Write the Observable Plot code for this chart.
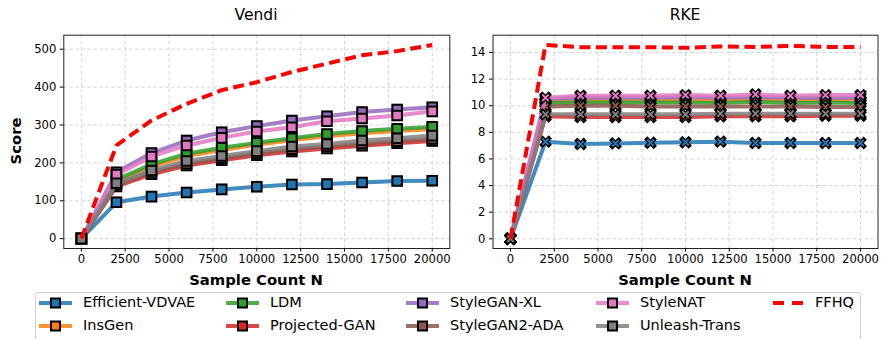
<!DOCTYPE html>
<html><head><meta charset="utf-8">
<script src="https://cdn.jsdelivr.net/npm/d3@7"></script>
<script src="https://cdn.jsdelivr.net/npm/@observablehq/plot@0.6"></script>
<style>
body{margin:0;background:#fff;font-family:"DejaVu Sans",sans-serif;color:#000}
#root{position:relative;width:882px;height:339px;overflow:hidden;background:#fff}
.abs{position:absolute;white-space:nowrap}
.title{font-size:15.5px;line-height:15.5px;transform:translateX(-50%)}
.xlab{font-size:14.8px;line-height:14.8px;font-weight:bold;transform:translateX(-50%)}
.ylab{font-size:14.8px;line-height:14.8px;font-weight:bold;transform:translate(-50%,-50%) rotate(-90deg)}
#legend{left:35px;top:292px;width:826px;height:60px;border:1px solid #d0d0d0;border-radius:3px;box-sizing:border-box}
.ltext{font-size:14.5px;line-height:14.5px}
</style></head>
<body><div id="root"></div>
<script>
// ---------- data ----------
const sampleCounts = [0, 2000, 4000, 6000, 8000, 10000, 12000, 14000, 16000, 18000, 20000];
const methods = ["Efficient-VDVAE", "InsGen", "LDM", "Projected-GAN", "StyleGAN-XL", "StyleGAN2-ADA", "StyleNAT", "Unleash-Trans", "FFHQ"];
const methodColors = ["#1f77b4", "#ff7f0e", "#2ca02c", "#d62728", "#9467bd", "#8c564b", "#e377c2", "#7f7f7f", "#ff0000"];

const vendiEfficientVDVAE = [0, 96, 111, 122, 130, 137, 143, 144, 148, 152, 153];
const vendiInsGen         = [0, 150, 190, 218, 234, 248, 260, 270, 278, 284, 289];
const vendiLDM            = [0, 156, 196, 224, 240, 253, 265, 276, 284, 290, 295];
const vendiProjectedGAN   = [0, 138, 170, 193, 207, 220, 230, 238, 245, 252, 258];
const vendiStyleGANXL     = [0, 175, 226, 259, 281, 297, 312, 323, 334, 341, 347];
const vendiStyleGAN2ADA   = [0, 142, 176, 198, 212, 225, 236, 243, 251, 257, 263];
const vendiStyleNAT       = [0, 169, 217, 246, 266, 283, 294, 310, 317, 325, 336];
const vendiUnleashTrans   = [0, 146, 180, 205, 218, 231, 243, 250, 259, 265, 272];
const vendiFFHQ           = [0, 246, 312, 356, 392, 413, 440, 462, 484, 495, 511];

const rkeEfficientVDVAE = [0, 7.30, 7.12, 7.17, 7.22, 7.25, 7.30, 7.20, 7.20, 7.20, 7.20];
const rkeInsGen         = [0, 10.30, 10.40, 10.40, 10.40, 10.40, 10.40, 10.45, 10.40, 10.40, 10.40];
const rkeLDM            = [0, 10.20, 10.25, 10.25, 10.25, 10.25, 10.20, 10.30, 10.20, 10.25, 10.20];
const rkeProjectedGAN   = [0, 9.20, 9.15, 9.15, 9.15, 9.15, 9.20, 9.20, 9.20, 9.25, 9.25];
const rkeStyleGANXL     = [0, 10.50, 10.60, 10.60, 10.60, 10.65, 10.60, 10.65, 10.60, 10.60, 10.60];
const rkeStyleGAN2ADA   = [0, 9.95, 10.00, 10.00, 9.95, 9.95, 9.95, 9.95, 9.95, 9.90, 9.90];
const rkeStyleNAT       = [0, 10.60, 10.75, 10.75, 10.75, 10.80, 10.75, 10.85, 10.75, 10.80, 10.80];
const rkeUnleashTrans   = [0, 9.35, 9.35, 9.35, 9.35, 9.35, 9.40, 9.40, 9.40, 9.40, 9.40];
const rkeFFHQ           = [0, 14.57, 14.40, 14.40, 14.40, 14.35, 14.45, 14.42, 14.50, 14.42, 14.42];

const xTicks = [0, 2500, 5000, 7500, 10000, 12500, 15000, 17500, 20000];
const vendiTicks = [0, 100, 200, 300, 400, 500];
const rkeTicks = [0, 2, 4, 6, 8, 10, 12, 14];

const vendiSeries = [vendiEfficientVDVAE, vendiInsGen, vendiLDM, vendiProjectedGAN, vendiStyleGANXL, vendiStyleGAN2ADA, vendiStyleNAT, vendiUnleashTrans, vendiFFHQ];
const rkeSeries = [rkeEfficientVDVAE, rkeInsGen, rkeLDM, rkeProjectedGAN, rkeStyleGANXL, rkeStyleGAN2ADA, rkeStyleNAT, rkeUnleashTrans, rkeFFHQ];

// ---------- drawing ----------
const root = document.getElementById("root");
const FONT = "'DejaVu Sans', sans-serif";

function seriesMarks(series, markerKind) {
  const marks = [];
  series.forEach((vals, i) => {
    const data = sampleCounts.map((x, j) => ({x, y: vals[j], method: methods[i]}));
    const color = methodColors[i];
    if (methods[i] === "FFHQ") {
      marks.push(Plot.line(data, {x: "x", y: "y", stroke: color, strokeWidth: 4, strokeDasharray: "11,5.5", strokeLinecap: "butt"}));
      return;
    }
    marks.push(Plot.line(data, {x: "x", y: "y", stroke: color, strokeOpacity: 0.85, strokeWidth: 4, strokeLinejoin: "round", strokeLinecap: "round"}));
    if (markerKind === "square") {
      marks.push(Plot.dot(data, {x: "x", y: "y", symbol: "square", r: 6.6, fill: "#999", fillOpacity: 0.45, stroke: "none"}));
      marks.push(Plot.dot(data, {x: "x", y: "y", symbol: "square", r: 5.4, fill: color, stroke: "#000", strokeWidth: 2}));
    } else {
      marks.push(Plot.dot(data, {x: "x", y: "y", symbol: "times", r: 3, stroke: "#000", strokeWidth: 4.6, strokeLinecap: "square"}));
      marks.push(Plot.dot(data, {x: "x", y: "y", symbol: "times", r: 3, stroke: color, strokeWidth: 2, strokeLinecap: "butt"}));
    }
  });
  return marks;
}

function panel({series, yDomain, yTicks, left, width, marginLeft, marginRight, markerKind}) {
  const p = Plot.plot({
    width, height: 272,
    marginLeft, marginRight, marginTop: 34.7, marginBottom: 24,
    style: {fontFamily: FONT, fontSize: "11.6px", color: "#000", background: "transparent", overflow: "visible"},
    x: {domain: [-1000, 21000]},
    y: {domain: yDomain},
    marks: [
      Plot.gridX(xTicks, {stroke: "#cfcfcf", strokeOpacity: 1, strokeWidth: 0.9, strokeDasharray: "3.5,2.5"}),
      Plot.gridY(yTicks, {stroke: "#cfcfcf", strokeOpacity: 1, strokeWidth: 0.9, strokeDasharray: "3.5,2.5"}),
      ...seriesMarks(series, markerKind),
      Plot.frame({stroke: "#222", strokeWidth: 1}),
      Plot.axisX({ticks: xTicks, tickSize: 3.5, tickPadding: 3, tickFormat: d => String(d), label: null}),
      Plot.axisY({ticks: yTicks, tickSize: 3.5, tickPadding: 4, tickFormat: d => String(d), label: null})
    ]
  });
  p.style.position = "absolute";
  p.style.left = left + "px";
  p.style.top = "0px";
  root.appendChild(p);
}

panel({series: vendiSeries, yDomain: [-26, 537], yTicks: vendiTicks, left: 0, width: 460, marginLeft: 63.3, marginRight: 10.7, markerKind: "square"});
panel({series: rkeSeries, yDomain: [-0.73, 15.3], yTicks: rkeTicks, left: 440, width: 442, marginLeft: 52.5, marginRight: 4.5, markerKind: "x"});

function addText(cls, text, x, y) {
  const d = document.createElement("div");
  d.className = "abs " + cls;
  d.textContent = text;
  d.style.left = x + "px";
  d.style.top = y + "px";
  root.appendChild(d);
  return d;
}
addText("title", "Vendi", 256, 8);
addText("title", "RKE", 685, 8);
addText("xlab", "Sample Count N", 256, 273);
addText("xlab", "Sample Count N", 685, 273);
addText("ylab", "Score", 16, 141);

// legend
const legend = document.createElement("div");
legend.id = "legend";
legend.className = "abs";
root.appendChild(legend);
const colSample = [39, 226, 406, 596, 773];
const colText = [83, 270, 450, 640, 815];
const rowY = [303.3, 325.7];
methods.forEach((m, i) => {
  const col = Math.floor(i / 2), row = i % 2;
  const svg = d3.create("svg").attr("width", 36).attr("height", 16)
    .style("position", "absolute").style("left", colSample[col] + "px").style("top", (rowY[row] - 8) + "px");
  if (m === "FFHQ") {
    svg.append("line").attr("x1", 0).attr("x2", 31).attr("y1", 8).attr("y2", 8)
      .attr("stroke", methodColors[i]).attr("stroke-width", 4).attr("stroke-dasharray", "11,8");
  } else {
    svg.append("line").attr("x1", 0).attr("x2", 33).attr("y1", 8).attr("y2", 8)
      .attr("stroke", methodColors[i]).attr("stroke-opacity", 0.85).attr("stroke-width", 4);
    svg.append("rect").attr("x", 12).attr("y", 3.5).attr("width", 9).attr("height", 9)
      .attr("fill", methodColors[i]).attr("stroke", "#000").attr("stroke-width", 2);
  }
  root.appendChild(svg.node());
  addText("ltext", m, colText[col], rowY[row] - 8);
});
</script>
</body></html>
